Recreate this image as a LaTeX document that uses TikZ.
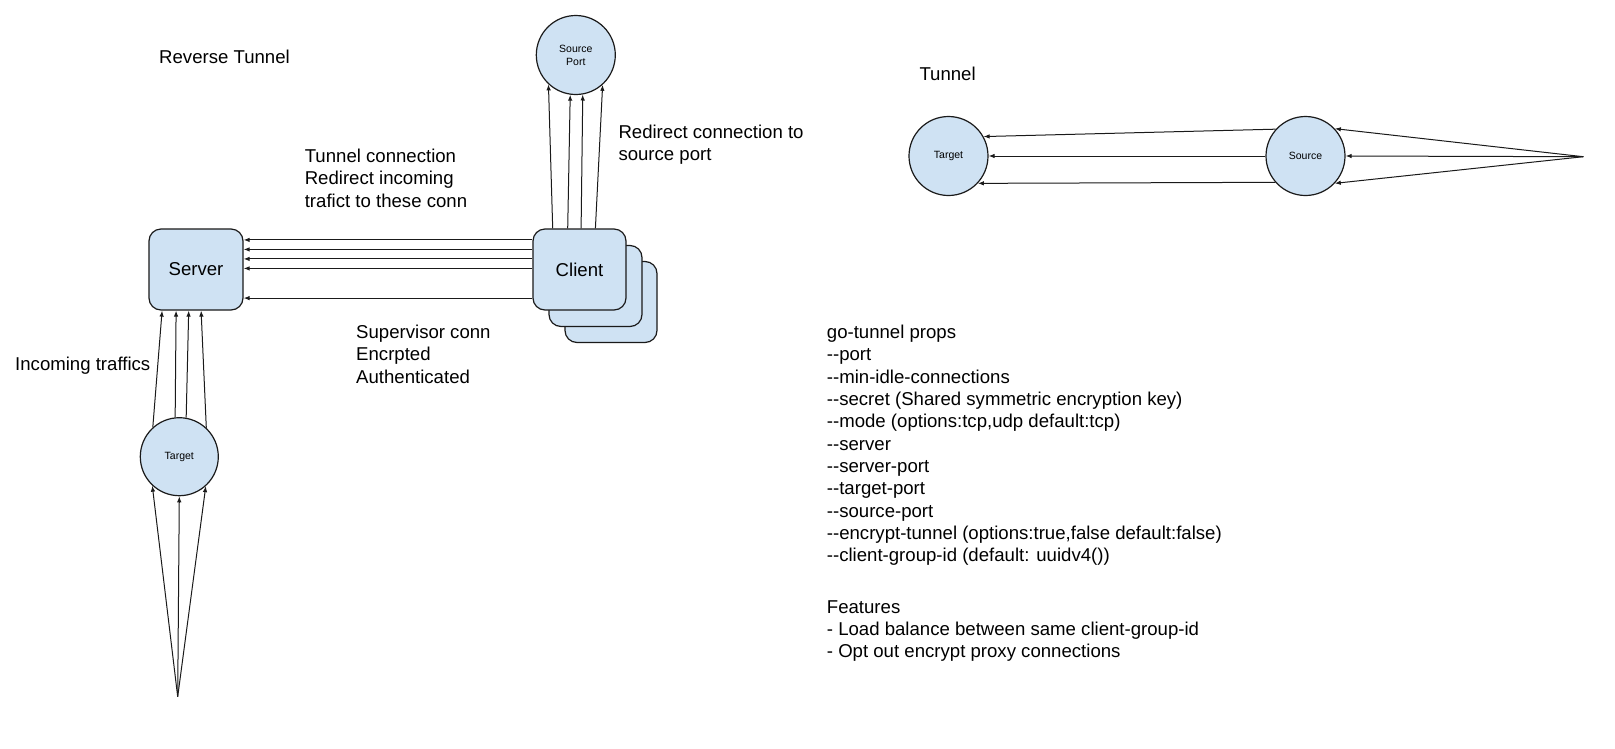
\documentclass[tikz,border=0pt]{standalone}
\usepackage{fontspec}
\setmainfont{Liberation Sans}[Ligatures=TeXOff]
\usetikzlibrary{arrows.meta}
\definecolor{boxfill}{HTML}{CFE2F3}
\definecolor{ink}{HTML}{1A1A1A}
\begin{document}
\begin{tikzpicture}[x=1pt,y=-1pt,
  box/.style={draw=ink,fill=boxfill,line width=1.2pt,rounded corners=12pt,minimum width=94pt,minimum height=81pt,inner sep=0pt,font=\fontsize{18.6}{22.3}\selectfont},
  port/.style={draw=ink,fill=boxfill,line width=1.2pt,circle,inner sep=0pt,minimum size=79pt,font=\fontsize{10.5}{13}\selectfont,align=center},
  lbl/.style={anchor=north west,inner sep=0pt,align=left,font=\fontsize{18.6}{22.3}\selectfont},
  arr/.style={draw=ink,line width=1pt,-{Latex[length=6pt,width=4.5pt]}}]
\useasboundingbox[fill=white] (0,0) rectangle (1615,748);

% ---------- Reverse tunnel ----------
\node[lbl] (rtitle) at (159,50.3) {Reverse Tunnel};

\node[box] (server) at (196,269.5) {Server};
\node[box,minimum width=92pt] (client3) at (611,302) {};
\node[box,minimum width=93pt] (client2) at (595.5,286) {};
\node[box,minimum width=93pt] (client) at (579.5,269.5) {Client};

\node[port] (srcport) at (575.8,55) {Source\\Port};
\node[port,minimum size=78pt] (rtarget) at (179.3,456.7) {Target};
\coordinate (rin) at (177.7,696.7);

% tunnel connections client -> server
\foreach \dy in {11.5,21,30.5,40,69.7}{
  \draw[arr] ([yshift=-\dy pt]client.north west) -- ([yshift=-\dy pt]server.north east);
}
% client -> source port
\draw[arr] ([xshift=20.3pt]client.north west) -- (srcport.227.5);
\draw[arr] ([xshift=35.3pt]client.north west) -- (srcport.262);
\draw[arr] ([xshift=48.7pt]client.north west) -- (srcport.280);
\draw[arr] ([xshift=63pt]client.north west) -- (srcport.312.5);
% target -> server
\draw[arr] (rtarget.132.6) -- ([xshift=13.7pt]server.south west);
\draw[arr] (rtarget.96.6) -- ([xshift=27.7pt]server.south west);
\draw[arr] (rtarget.80) -- ([xshift=40.3pt]server.south west);
\draw[arr] (rtarget.47) -- ([xshift=52.7pt]server.south west);
% incoming -> target
\draw[arr] (rin) -- (rtarget.227.5);
\draw[arr] (rin) -- (rtarget.270);
\draw[arr] (rin) -- (rtarget.312);

\node[lbl] (tclbl) at (304.6,149) {Tunnel connection\\Redirect incoming\\trafict to these conn};
\node[lbl] (rdlbl) at (618.3,125) {Redirect connection to\\source port};
\node[lbl] (svlbl) at (356,325) {Supervisor conn\\Encrpted\\Authenticated};
\node[lbl] (inlbl) at (15,356.7) {Incoming traffics};

% ---------- Tunnel ----------
\node[lbl] (ttitle) at (919.3,66.7) {Tunnel};
\node[port] (ttarget) at (948.5,156) {Target};
\node[port] (tsource) at (1305.5,156) {Source};
\coordinate (tin) at (1583.3,156.7);

\draw[arr] (tsource.138.5) -- (ttarget.29);
\draw[arr] (tsource.west) -- (ttarget.east);
\draw[arr] (tsource.221.5) -- (ttarget.317.5);
\draw[arr] (tin) -- (tsource.43);
\draw[arr] (tin) -- (tsource.east);
\draw[arr] (tin) -- (tsource.317);

% ---------- Props ----------
\node[lbl] (props) at (826.7,325) {go-tunnel props\\--port\\--min-idle-connections\\--secret (Shared symmetric encryption key)\\--mode (options:tcp,udp default:tcp)\\--server\\--server-port\\--target-port\\--source-port\\--encrypt-tunnel (options:true,false default:false)\\--client-group-id (default: uuidv4())};
\node[lbl] (feat) at (826.7,600) {Features\\- Load balance between same client-group-id\\- Opt out encrypt proxy connections};
\end{tikzpicture}
\end{document}
